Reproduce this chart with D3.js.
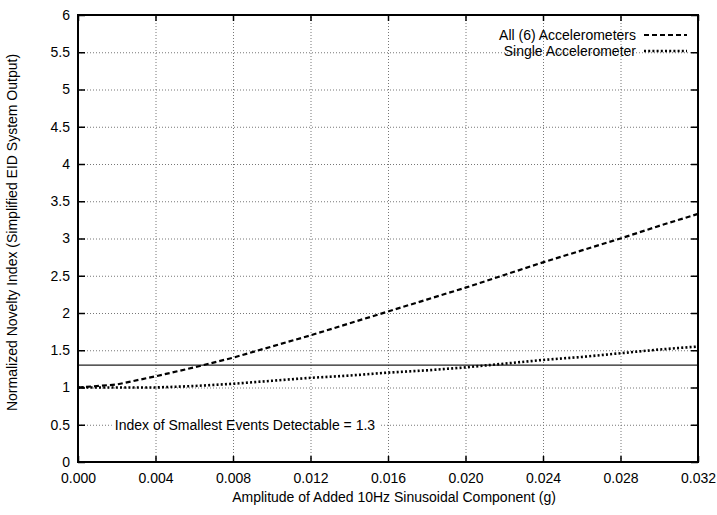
<!DOCTYPE html>
<html>
<head>
<meta charset="utf-8">
<script src="https://cdn.jsdelivr.net/npm/d3@7"></script>
<style>
  body { margin: 0; background: #fff; }
  svg { font-family: "Liberation Sans", Arial, sans-serif; }
  .grid line { stroke: #777; stroke-width: 1; stroke-dasharray: 1,2; }
  .grid .domain { display: none; }
  .axis .domain { display: none; }
  .axis line { stroke: #000; stroke-width: 1.5; }
  .axis text { font-size: 14px; fill: #000; }
</style>
</head>
<body>
<div id="chart"></div>
<script>
// amplitude of the added 10Hz component (g)
const amplitudes = [0, 0.002, 0.004, 0.006, 0.008, 0.010, 0.012, 0.014, 0.016,
  0.018, 0.020, 0.022, 0.024, 0.026, 0.028, 0.030, 0.032];
const allAccelerometers = [1.0, 1.04, 1.15, 1.27, 1.40, 1.55, 1.70, 1.86, 2.02,
  2.18, 2.34, 2.51, 2.68, 2.84, 3.00, 3.17, 3.33];
const singleAccelerometer = [1.0, 1.0, 1.0, 1.02, 1.05, 1.09, 1.13, 1.16, 1.20,
  1.23, 1.27, 1.32, 1.37, 1.41, 1.46, 1.51, 1.55];
const detectableIndex = 1.3;
const xTicks = [0, 0.004, 0.008, 0.012, 0.016, 0.020, 0.024, 0.028, 0.032];
const yTicks = [0, 0.5, 1, 1.5, 2, 2.5, 3, 3.5, 4, 4.5, 5, 5.5, 6];

const width = 717, height = 515;
const margin = { top: 15, right: 19, bottom: 53, left: 78 };
const plotW = width - margin.left - margin.right;
const plotH = height - margin.top - margin.bottom;

const svg = d3.select('#chart').append('svg')
  .attr('width', width)
  .attr('height', height);

const g = svg.append('g')
  .attr('transform', `translate(${margin.left},${margin.top})`);

const x = d3.scaleLinear().domain([0, 0.032]).range([0, plotW]);
const y = d3.scaleLinear().domain([0, 6]).range([plotH, 0]);

// grid
g.append('g')
  .attr('class', 'grid')
  .attr('transform', `translate(0,${plotH})`)
  .call(d3.axisBottom(x).tickValues(xTicks).tickSize(-plotH).tickFormat(''));
g.append('g')
  .attr('class', 'grid')
  .call(d3.axisLeft(y).tickValues(yTicks).tickSize(-plotW).tickFormat(''));

// threshold line
g.append('line')
  .attr('x1', x(0)).attr('x2', x(0.032))
  .attr('y1', y(detectableIndex)).attr('y2', y(detectableIndex))
  .attr('stroke', '#222')
  .attr('stroke-width', 1.2);

// annotation (white box hides the grid behind it)
const noteBox = g.append('rect').attr('fill', '#fff');
const note = g.append('text')
  .attr('x', x(0.0019))
  .attr('y', y(0.5))
  .attr('dy', '0.35em')
  .attr('font-size', 14)
  .text('Index of Smallest Events Detectable = ' + detectableIndex);
const bb = note.node().getBBox();
noteBox
  .attr('x', bb.x - 3).attr('y', y(0.5) - 3)
  .attr('width', bb.width + 8).attr('height', 6);

const line = d3.line()
  .x((d, i) => x(amplitudes[i]))
  .y(d => y(d));

g.append('path')
  .datum(allAccelerometers)
  .attr('fill', 'none')
  .attr('stroke', '#000')
  .attr('stroke-width', 2.2)
  .attr('stroke-dasharray', '5,3')
  .attr('d', line);

g.append('path')
  .datum(singleAccelerometer)
  .attr('fill', 'none')
  .attr('stroke', '#000')
  .attr('stroke-width', 2.6)
  .attr('stroke-dasharray', '2,2.2')
  .attr('d', line);

// axes with inward ticks on all four sides
g.append('g')
  .attr('class', 'axis')
  .attr('transform', `translate(0,${plotH})`)
  .call(d3.axisBottom(x).tickValues(xTicks).tickSize(-6).tickPadding(11)
    .tickFormat(d3.format('.3f')));
g.append('g')
  .attr('class', 'axis')
  .call(d3.axisLeft(y).tickValues(yTicks).tickSize(-7).tickPadding(8)
    .tickFormat(d => d));
g.append('g')
  .attr('class', 'axis')
  .call(d3.axisTop(x).tickValues(xTicks).tickSize(-6).tickFormat(''));
g.append('g')
  .attr('class', 'axis')
  .attr('transform', `translate(${plotW},0)`)
  .call(d3.axisRight(y).tickValues(yTicks).tickSize(-7).tickFormat(''));

// frame
g.append('rect')
  .attr('width', plotW).attr('height', plotH)
  .attr('fill', 'none')
  .attr('stroke', '#000')
  .attr('stroke-width', 2);

// legend
const legend = [
  { label: 'All (6) Accelerometers', dash: '5,3', w: 2.2 },
  { label: 'Single Accelerometer', dash: '2,2.2', w: 2.6 }
];
legend.forEach((d, i) => {
  const ly = 20 + i * 16;
  g.append('text')
    .attr('x', 558).attr('y', ly)
    .attr('dy', '0.35em')
    .attr('text-anchor', 'end')
    .attr('font-size', 14)
    .text(d.label);
  g.append('line')
    .attr('x1', 566).attr('x2', 609)
    .attr('y1', ly).attr('y2', ly)
    .attr('stroke', '#000')
    .attr('stroke-width', d.w)
    .attr('stroke-dasharray', d.dash);
});

// axis titles
svg.append('text')
  .attr('x', margin.left + plotW / 2 + 6)
  .attr('y', 502)
  .attr('text-anchor', 'middle')
  .attr('font-size', 14)
  .text('Amplitude of Added 10Hz Sinusoidal Component (g)');

svg.append('text')
  .attr('transform', `translate(17,${margin.top + plotH / 2 - 6}) rotate(-90)`)
  .attr('text-anchor', 'middle')
  .attr('font-size', 14)
  .text('Normalized Novelty Index (Simplified EID System Output)');
</script>
</body>
</html>
